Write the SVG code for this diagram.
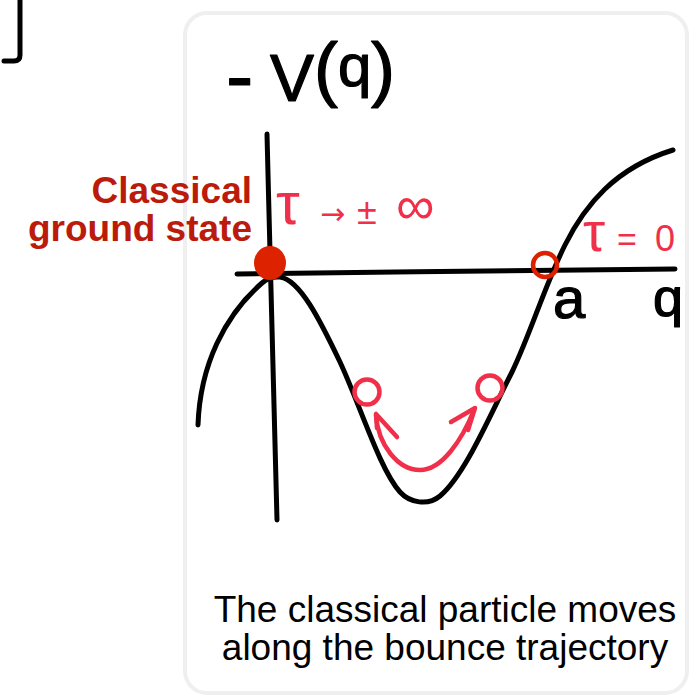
<svg xmlns="http://www.w3.org/2000/svg" width="689" height="697" viewBox="0 0 689 697">
<style>
.ink{fill:none;stroke:#000;stroke-width:5;stroke-linecap:round;stroke-linejoin:round}
.pink{fill:none;stroke:#f0304a;stroke-width:4.5;stroke-linecap:round;stroke-linejoin:round}
.hand{font-family:"Liberation Sans","DejaVu Sans",sans-serif;fill:#000;stroke:#000;stroke-width:1.2;stroke-linejoin:round}
.tau{font-family:"Liberation Sans","DejaVu Sans",sans-serif;fill:#f0304a}
.red{font-family:"Liberation Sans",Arial,sans-serif;font-weight:bold;font-size:37px;fill:#bb1b0b;text-anchor:end}
.cap{font-family:"Liberation Sans",Arial,sans-serif;font-size:37px;fill:#000;text-anchor:middle}
</style>
<rect width="689" height="697" fill="#fff"/>
<g id="bracket"><path class="ink" d="M20,-2 L20,55 Q20,61 14,61 L4,61" stroke-width="4.5"/></g>
<g id="card"><rect x="185" y="13" width="502" height="680" rx="22" fill="#fff" stroke="#efefef" stroke-width="4"/></g>
<g id="axes">
<path class="ink" d="M267,134 C270,250 272,350 277,520"/>
<path class="ink" d="M237,274 C380,272 540,270 675,269"/>
</g>
<g id="potential"><path class="ink" d="M198,425 C200,365 225,315 262,283 Q270,276 280,277 C300,280 320,320 340,362 C360,405 380,470 400,492 C410,503 428,506 440,496 C465,475 490,415 512,372 C530,335 545,285 565,245 C585,205 615,168 673,150"/></g>
<g id="axis-labels">
<text class="hand" font-size="66"><tspan x="226" y="104" font-size="82">-</tspan><tspan x="270" y="101">V</tspan><tspan x="314" y="93" font-size="72">(</tspan><tspan x="338" y="86" font-size="60">q</tspan><tspan x="371" y="93" font-size="72">)</tspan></text>
<text class="hand" x="553" y="318" font-size="58">a</text>
<text class="hand" x="653" y="316" font-size="54">q</text>
</g>
<g id="ground-state">
<ellipse cx="270" cy="263" rx="16" ry="17" fill="#dd2200"/>
<text class="red"><tspan x="252" y="203">Classical</tspan><tspan x="252" y="241">ground state</tspan></text>
<text class="tau" y="224"><tspan x="276" font-size="60">τ</tspan><tspan x="320" font-size="30" font-family="DejaVu Sans, sans-serif">→</tspan><tspan x="357" font-size="36">±</tspan><tspan x="396" font-size="54">∞</tspan></text>
</g>
<g id="turning-point">
<circle cx="545" cy="265" r="12" fill="none" stroke="#dd2000" stroke-width="4.5"/>
<text class="tau" y="251"><tspan x="583" font-size="56">τ</tspan><tspan x="617" font-size="34">=</tspan><tspan x="655" font-size="36">0</tspan></text>
</g>
<g id="bounce-left"><circle class="pink" cx="367" cy="392" r="12.5"/></g>
<g id="bounce-right"><circle class="pink" cx="490" cy="388" r="12.5"/></g>
<g id="connectors">
<path class="pink" d="M376,415 C378,445 398,470 420,470 C442,470 462,440 474,410"/>
<path class="pink" d="M397,437 L376,414 L377,428"/>
<path class="pink" d="M451,422 L475,408 L468,430"/>
</g>
<g id="caption">
<text class="cap"><tspan x="445" y="622">The classical particle moves</tspan><tspan x="445" y="660">along the bounce trajectory</tspan></text>
</g>
</svg>
